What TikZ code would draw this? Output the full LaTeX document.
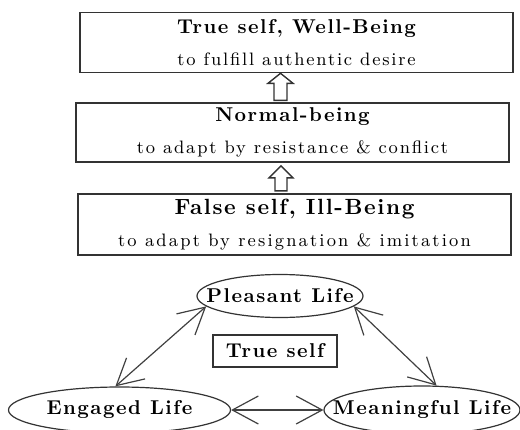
\documentclass[tikz,border=0pt]{standalone}
\usepackage{fontspec}
\usetikzlibrary{arrows.meta,shapes.geometric}
\newfontfamily\headfont{Latin Modern Roman}[LetterSpace=7.5]
\newfontfamily\linefont{Latin Modern Roman}[LetterSpace=10]
\newfontfamily\widefont{Latin Modern Roman}[LetterSpace=12]
\newcommand{\boxhead}[2][10]{{\headfont\fontsize{#1}{12}\selectfont\bfseries#2}}
\newcommand{\boxline}[2][\linefont]{{#1\fontsize{9}{11}\selectfont#2}}
\begin{document}
\begin{tikzpicture}[
	  x=0.5pt, y=-0.5pt,
	  level/.style={draw=black!80, line width=0.8pt, minimum width=216.5pt, align=center, inner sep=0pt},
	  life/.style={ellipse, draw=black!80, line width=0.6pt, inner sep=0pt},
	  hollow/.style={draw=black!80, line width=0.7pt, fill=white},
	  link/.style={draw=black!75, line width=0.6pt, {Straight Barb[length=13pt,width=14pt]}-{Straight Barb[length=13pt,width=14pt]}},
	]
	\useasboundingbox (0,0) rectangle (520,429);

	\node [level, minimum height=30pt] (well) at (296.5,42.5) {\boxhead{True self, Well-Being}\\[4pt]\boxline{to fulfill authentic desire}};
	\node [level, minimum height=29.5pt] (normal) at (292.5,132.5) {\boxhead{Normal-being}\\[4pt]\boxline{to adapt by resistance \& conflict}};
	\node [level, minimum height=30.5pt] (ill) at (294.5,224.5) {\boxhead[11]{False self, Ill-Being}\\[4pt]\boxline[\widefont]{to adapt by resignation \& imitation}};

	\draw [hollow] ([xshift=-8pt]well.south) -- ++(12.5,10) -- ++(-6,0) -- ++(0,17) -- ++(-13,0) -- ++(0,-17) -- ++(-6,0) -- cycle;
	\draw [hollow] ([xshift=-5.75pt,yshift=-1.5pt]normal.south) -- ++(12,12) -- ++(-6,0) -- ++(0,13) -- ++(-12,0) -- ++(0,-13) -- ++(-6,0) -- cycle;

	\node [life, minimum width=83pt, minimum height=21.5pt] (pleasant) at (280,296) {\makebox[0pt]{\boxhead{Pleasant Life}}};
	\node [life, minimum width=111pt, minimum height=23pt] (engaged) at (119.5,410) {\makebox[0pt]{\boxhead{Engaged Life}}};
	\node [life, minimum width=98pt, minimum height=24pt] (meaning) at (422,410) {\makebox[0pt]{\boxhead{Meaningful Life}}};
	\node [draw=black!80, line width=0.8pt, minimum width=62pt, minimum height=16pt, inner sep=0pt] (core) at (275,351) {\boxhead{True self}};

	\draw [link] (pleasant.188) -- (engaged.100);
	\draw [link] (pleasant.-8) -- (meaning.59);
	\draw [link] (engaged.east) -- (meaning.west);
	\end{tikzpicture}
\end{document}
